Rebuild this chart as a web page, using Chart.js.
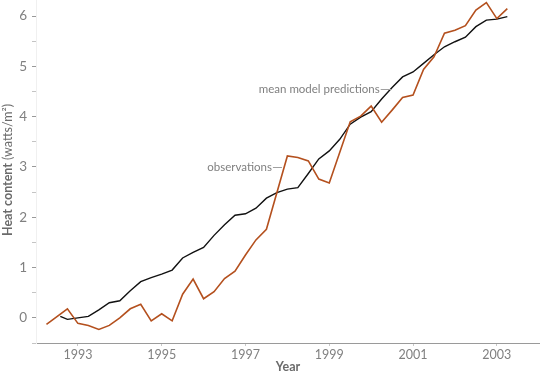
<!DOCTYPE html>
<html>
<head>
<meta charset="utf-8">
<script src="https://cdn.jsdelivr.net/npm/chart.js@4"></script>
<style>
  html, body { margin: 0; padding: 0; background: #fff; }
  #wrap { width: 540px; height: 374px; }
</style>
</head>
<body>
<div id="wrap"><canvas id="heatChart" width="540" height="374"></canvas></div>
<script>
// quarterly values (decimal year)
const obsYears = [1992.25, 1992.75, 1993.0, 1993.25, 1993.5, 1993.75, 1994.0, 1994.25, 1994.5, 1994.75,
  1995.0, 1995.25, 1995.5, 1995.75, 1996.0, 1996.25, 1996.5, 1996.75, 1997.0, 1997.25, 1997.5,
  1998.0, 1998.25, 1998.5, 1998.75, 1999.0, 1999.5, 1999.75, 2000.0, 2000.25, 2000.5, 2000.75,
  2001.0, 2001.25, 2001.5, 2001.75, 2002.0, 2002.25, 2002.5, 2002.75, 2003.0, 2003.25];
const obsValues = [-0.13, 0.18, -0.11, -0.15, -0.23, -0.15, 0.0, 0.18, 0.27, -0.06,
  0.08, -0.06, 0.47, 0.77, 0.38, 0.52, 0.78, 0.93, 1.25, 1.55, 1.76,
  3.22, 3.19, 3.12, 2.76, 2.68, 3.90, 4.01, 4.21, 3.89, 4.13, 4.38,
  4.43, 4.94, 5.19, 5.66, 5.72, 5.81, 6.12, 6.27, 5.95, 6.15];

const modelYears = [1992.58, 1992.75, 1993.0, 1993.25, 1993.5, 1993.75, 1994.0, 1994.25, 1994.5, 1994.75,
  1995.0, 1995.25, 1995.5, 1995.75, 1996.0, 1996.25, 1996.5, 1996.75, 1997.0, 1997.25, 1997.5, 1997.75,
  1998.0, 1998.25, 1998.5, 1998.75, 1999.0, 1999.25, 1999.5, 1999.75, 2000.0, 2000.25, 2000.5, 2000.75,
  2001.0, 2001.25, 2001.5, 2001.75, 2002.0, 2002.25, 2002.5, 2002.75, 2003.0, 2003.25];
const modelValues = [0.03, -0.03, 0.0, 0.03, 0.16, 0.30, 0.34, 0.54, 0.72, 0.80,
  0.87, 0.95, 1.19, 1.30, 1.40, 1.64, 1.85, 2.04, 2.07, 2.18, 2.38, 2.49,
  2.56, 2.59, 2.87, 3.16, 3.32, 3.55, 3.85, 3.99, 4.10, 4.35, 4.58, 4.79,
  4.89, 5.06, 5.23, 5.39, 5.49, 5.58, 5.79, 5.92, 5.94, 5.99];

const yearTicks = [1993, 1995, 1997, 1999, 2001, 2003];

const FONT = "Lato, 'Open Sans', sans-serif";
const COLORS = {
  obs: "#b4501e",
  model: "#111111",
  label: "#808080",
  title: "#6b6b6b",
  axis: "#9a9a9a"
};

const toPoints = (xs, ys) => xs.map((x, i) => ({ x, y: ys[i] }));

// leader labels, anchored in data units
const seriesLabels = [
  { text: "observations", x: 1997.87, y: 3.0, len: 9 },
  { text: "mean model predictions", x: 2000.49, y: 4.55, len: 11 }
];

const extrasPlugin = {
  id: "extras",
  afterDraw(chart) {
    const ctx = chart.ctx;
    const xs = chart.scales.x, ys = chart.scales.y;
    ctx.save();

    // series labels with short leader lines
    ctx.font = "11.5px " + FONT;
    ctx.fillStyle = COLORS.label;
    ctx.strokeStyle = "#a0a0a0";
    ctx.lineWidth = 1;
    ctx.textAlign = "right";
    ctx.textBaseline = "middle";
    seriesLabels.forEach(l => {
      const px = xs.getPixelForValue(l.x);
      const py = Math.round(ys.getPixelForValue(l.y)) + 0.5;
      ctx.beginPath();
      ctx.moveTo(px - l.len, py);
      ctx.lineTo(px, py);
      ctx.stroke();
      ctx.fillText(l.text, px - l.len - 1, py);
    });

    // y axis title: bold part + normal part
    ctx.fillStyle = COLORS.title;
    ctx.textAlign = "left";
    ctx.textBaseline = "middle";
    const bold = "bold 12.5px " + FONT, normal = "12.5px " + FONT;
    ctx.font = bold;
    const w1 = ctx.measureText("Heat content ").width;
    ctx.font = normal;
    const w2 = ctx.measureText("(watts/m²)").width;
    ctx.translate(8, 170);
    ctx.rotate(-Math.PI / 2);
    const start = -(w1 + w2) / 2;
    ctx.font = bold;
    ctx.fillText("Heat content ", start, 0);
    ctx.font = normal;
    ctx.fillText("(watts/m²)", start + w1, 0);
    ctx.restore();

    // x axis title
    ctx.save();
    ctx.fillStyle = COLORS.title;
    ctx.font = "bold 12.5px " + FONT;
    ctx.textAlign = "center";
    ctx.textBaseline = "middle";
    ctx.fillText("Year", (chart.chartArea.left + chart.chartArea.right) / 2, 367);
    ctx.restore();
  }
};

const chart = new Chart(document.getElementById("heatChart"), {
  type: "line",
  data: {
    datasets: [
      {
        label: "observations",
        data: toPoints(obsYears, obsValues),
        borderColor: COLORS.obs,
        borderWidth: 1.6,
        pointRadius: 0,
        tension: 0,
        fill: false
      },
      {
        label: "mean model predictions",
        data: toPoints(modelYears, modelValues),
        borderColor: COLORS.model,
        borderWidth: 1.4,
        pointRadius: 0,
        tension: 0,
        fill: false
      }
    ]
  },
  options: {
    responsive: false,
    animation: false,
    devicePixelRatio: 1,
    layout: { padding: 0 },
    plugins: {
      legend: { display: false },
      tooltip: { enabled: false }
    },
    scales: {
      x: {
        type: "linear",
        min: 1992,
        max: 2004.03,
        afterBuildTicks: scale => {
          scale.ticks = yearTicks.map(v => ({ value: v }));
        },
        afterFit: scale => {
          scale.height = 31;
          scale.paddingLeft = 0;
          scale.paddingRight = 0;
        },
        ticks: {
          color: COLORS.label,
          font: { family: FONT, size: 12.5 },
          padding: 1,
          maxRotation: 0,
          callback: v => String(v)
        },
        grid: {
          drawOnChartArea: false,
          drawTicks: true,
          tickLength: 3,
          tickColor: "#c8c8c8"
        },
        border: { color: COLORS.axis, width: 1 }
      },
      y: {
        min: -0.5,
        max: 6.32,
        afterBuildTicks: scale => {
          const t = [];
          for (let v = -0.5; v <= 6.0001; v += 0.5) t.push({ value: Math.round(v * 10) / 10 });
          scale.ticks = t;
        },
        afterFit: scale => {
          scale.width = 36;
          scale.paddingTop = 0;
          scale.paddingBottom = 0;
        },
        ticks: {
          color: COLORS.label,
          font: { family: FONT, size: 13.5 },
          padding: 5,
          callback: v => (Number.isInteger(v) ? String(v) : "")
        },
        grid: {
          drawOnChartArea: false,
          drawTicks: true,
          tickLength: 4,
          tickColor: ctx => (Number.isInteger(ctx.tick && ctx.tick.value) ? "#999" : "#c4c4c4")
        },
        border: { color: "#f0f0f0", width: 1 }
      }
    }
  },
  plugins: [extrasPlugin]
});
</script>
</body>
</html>
